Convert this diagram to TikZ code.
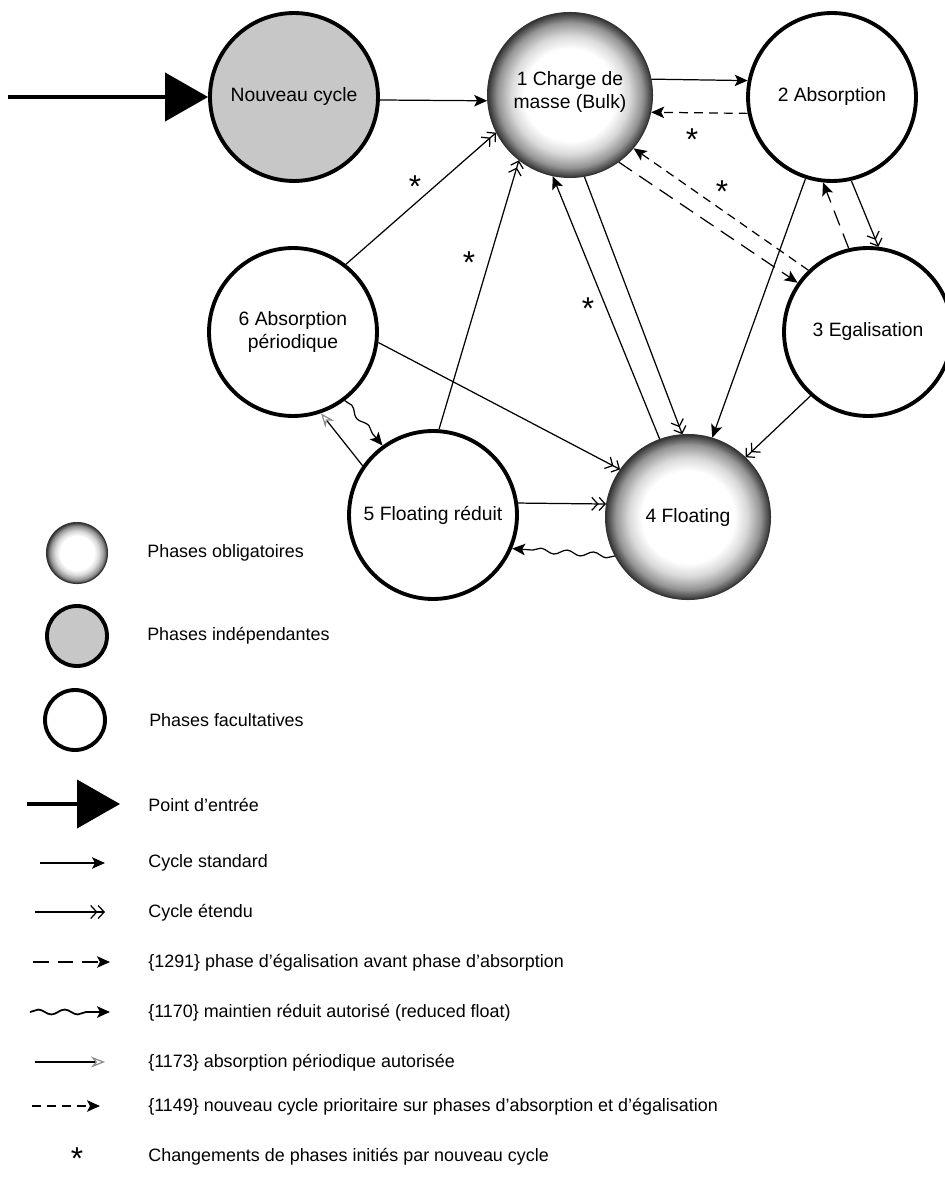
\documentclass[tikz,border=0pt]{standalone}
\usepackage{fontspec}
\setmainfont{Liberation Sans}
\usetikzlibrary{arrows.meta,positioning,decorations.pathmorphing}
\pgfdeclareradialshading{bulkshade}{\pgfpoint{0bp}{0bp}}{color(0bp)=(white); color(14bp)=(white); color(18bp)=(black!15); color(22bp)=(black!42); color(25bp)=(black!80); color(50bp)=(black!80)}

\begin{document}
\begin{tikzpicture}[x=0.02cm, y=-0.02cm,
  phase/.style={circle, draw, line width=2.2pt, minimum size=3.36cm, inner sep=0pt,
    align=center, font=\fontsize{11}{13}\selectfont},
  oblig/.style={phase, draw=black!80, line width=0.6pt, shading=bulkshade},
  indep/.style={phase, fill=black!22},
  std/.style={-{Stealth[length=2.6mm,width=2.3mm,inset=0.6mm]}, line width=0.7pt},
  ext/.style={-{Straight Barb[length=1.2mm,width=2.6mm] Straight Barb[length=1.2mm,width=2.6mm]}, line width=0.7pt},
  eqz/.style={std, dash pattern=on 9pt off 5pt},
  red/.style={std, decorate, decoration={snake, amplitude=1.4pt, segment length=15pt, post length=3mm}},
  per/.style={-{Stealth[open, length=2.8mm, width=2.2mm, color=black!45]}, line width=0.7pt},
  prio/.style={std, dash pattern=on 5pt off 3.5pt},
  entry/.style={-{Triangle[length=8.6mm, width=9.6mm]}, line width=2.3pt},
  star/.style={font=\fontsize{18}{18}\selectfont, inner sep=0pt, yshift=-4pt},
  legtxt/.style={font=\fontsize{10.2}{12}\selectfont, inner sep=0pt, anchor=west}]
\useasboundingbox (0,0) rectangle (945,1182);

% phases
\node[indep] (new) at (294,97) {Nouveau cycle};
\node[oblig, minimum size=3.3cm] (bulk) at (570,95) {1 Charge de\\masse (Bulk)\\[-7pt]};
\node[phase] (absorb) at (832,97) {2 Absorption};
\node[phase] (equal) at (868,332) {3 Egalisation};
\node[oblig, minimum size=3.3cm] (float) at (688,517) {4 Floating};
\node[phase] (rfloat) at (433,515) {5 Floating réduit};
\node[phase] (pabs) at (293,332) {6 Absorption\\périodique};

% transitions
\coordinate (in) at (8,97);
\draw[entry] (in) -- (new);
\draw[std] (new.-2) -- (bulk.184);
\draw[std] (bulk.11) -- (absorb.169);
\draw[prio] (absorb.191) -- (bulk.-12);
\draw[eqz] (bulk.-54) -- (equal.145);
\draw[prio] (equal.134) -- (bulk.-40);
\draw[ext] (absorb.-77) -- (equal.83);
\draw[eqz] (equal.103) -- (absorb.-96);
\draw[std] (absorb.-108) -- (float.73);
\draw[ext] (equal.-132) -- (float.46);
\draw[ext] (bulk.-80) -- (float.94);
\draw[std] (float.110) -- (bulk.-102);
\draw[ext] (pabs.52) -- (bulk.207);
\draw[ext] (rfloat.86) -- (bulk.232);
\draw[ext] (pabs.-7) -- (float.145);
\draw[ext] (rfloat.8) -- (float.171);
\draw[red] (float.208) -- (rfloat.-23);
\draw[per] (rfloat.145) -- (pabs.-71);
\draw[red] (pabs.-53) -- (rfloat.126);

% new-cycle marks
\node[star] (s1) at (692,133) {*};
\node[star] (s2) at (722,185) {*};
\node[star] (s3) at (415,180) {*};
\node[star] (s4) at (469,256) {*};
\node[star] (s5) at (588,302) {*};

% legend
\node[oblig, minimum size=1.22cm] (lobl) at (77,553) {};
\node[legtxt, right=0.78cm of lobl] (tobl) {Phases obligatoires};
\node[indep, minimum size=1.2cm] (lind) at (77,636) {};
\node[legtxt, right=0.76cm of lind] (tind) {Phases indépendantes};
\node[phase, minimum size=1.2cm] (lfac) at (75,720) {};
\node[legtxt, right=0.84cm of lfac] (tfac) {Phases facultatives};

\coordinate (le0) at (27,804); \coordinate (le1) at (120,804);
\draw[entry] (le0) -- (le1);
\node[legtxt] (tent) at (148,805) {Point d'entrée};
\coordinate (ls0) at (40,863); \coordinate (ls1) at (105,863);
\draw[std] (ls0) -- (ls1);
\node[legtxt] (tstd) at (148,863) {Cycle standard};
\coordinate (lx0) at (35,912); \coordinate (lx1) at (105,912);
\draw[ext] (lx0) -- (lx1);
\node[legtxt] (text) at (148,913) {Cycle étendu};
\coordinate (lq0) at (33,962); \coordinate (lq1) at (110,962);
\draw[eqz] (lq0) -- (lq1);
\node[legtxt] (teqz) at (148,963) {\{1291\} phase d'égalisation avant phase d'absorption};
\coordinate (lr0) at (30,1012); \coordinate (lr1) at (110,1012);
\draw[red, line width=1pt] (lr0) -- (lr1);
\node[legtxt] (tred) at (148,1013) {\{1170\} maintien réduit autorisé (reduced float)};
\coordinate (lp0) at (35,1062); \coordinate (lp1) at (105,1062);
\draw[per] (lp0) -- (lp1);
\node[legtxt] (tper) at (148,1063) {\{1173\} absorption périodique autorisée};
\coordinate (lc0) at (32,1106); \coordinate (lc1) at (100,1106);
\draw[prio] (lc0) -- (lc1);
\node[legtxt] (tprio) at (148,1107) {\{1149\} nouveau cycle prioritaire sur phases d'absorption et d'égalisation};
\node[star] (lstar) at (77,1152) {*};
\node[legtxt] (tstar) at (148,1157) {Changements de phases initiés par nouveau cycle};
\end{tikzpicture}
\end{document}
